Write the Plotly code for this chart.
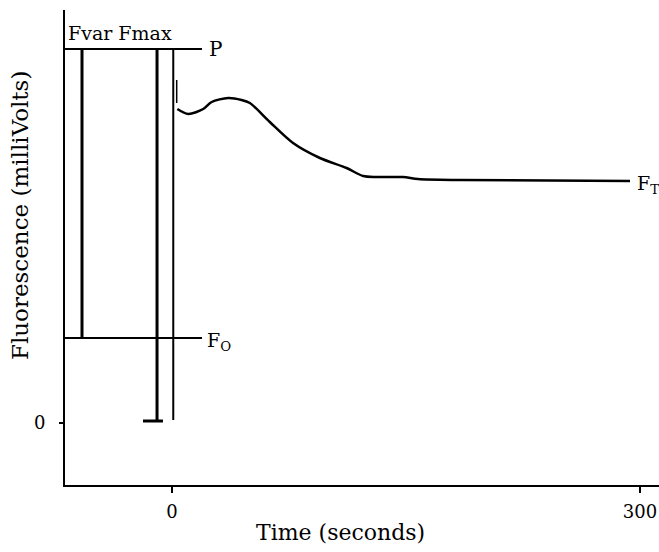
import plotly.graph_objects as go

# Fluorescence trace after the actinic light is switched on (t = 0)
time_s = [3.4, 10.4, 20.0, 25.4, 36.0, 44.6, 49.9, 62.7, 77.6, 94.8, 111.9, 122.5, 131.0, 148.1, 157.7, 185.0, 293.6]
fluor_mv = [314, 309, 314, 321, 325, 323, 320, 301, 280, 265, 255, 247, 246, 246, 244, 243, 242]

# Reference levels
p_level = 374     # peak fluorescence P
f0_level = 85     # minimal fluorescence F0
zero_level = 0

# Positions of the saturating-pulse markers
fvar_t = -57.7
fmax_t = -9.6
light_on_t = 0.8
cap_half = [-18.6, -5.8]
level_end_t = 19.2
spike_t = 3.0
spike_range = [320, 343]

x_ticks = [0, 300]
y_ticks = [0]

font_family = "DejaVu Serif"
ink = "black"

fig = go.Figure()

def seg(xs, ys, w):
    fig.add_trace(go.Scatter(x=xs, y=ys, mode="lines",
                             line=dict(color=ink, width=w),
                             hoverinfo="skip", showlegend=False))

# P and F0 levels
seg([-70, level_end_t], [p_level, p_level], 2)
seg([-70, level_end_t], [f0_level, f0_level], 2)
# Fvar bar
seg([fvar_t, fvar_t], [p_level, f0_level], 3)
# Fmax bar with foot
seg([fmax_t, fmax_t], [p_level, zero_level + 2], 3)
seg(cap_half, [zero_level + 2, zero_level + 2], 3)
# light switched on
seg([light_on_t, light_on_t], [p_level, zero_level + 3], 2)
seg([spike_t, spike_t], spike_range, 1.5)
# fluorescence trace
fig.add_trace(go.Scatter(x=time_s, y=fluor_mv, mode="lines",
                         line=dict(color=ink, width=2.5, shape="spline", smoothing=0.8),
                         hoverinfo="skip", showlegend=False))

ann_font = dict(family=font_family, size=19, color=ink)
fig.add_annotation(x=-68, y=p_level, text="Fvar Fmax", showarrow=False,
                   xanchor="left", yanchor="bottom", yshift=3, font=ann_font)
fig.add_annotation(x=level_end_t, y=p_level, text="P", showarrow=False,
                   xanchor="left", yanchor="middle", xshift=5, font=dict(family=font_family, size=20, color=ink))
fig.add_annotation(x=level_end_t, y=f0_level, text="F<sub>O</sub>", showarrow=False,
                   xanchor="left", yanchor="middle", xshift=3, yshift=-3, font=ann_font)
fig.add_annotation(x=time_s[-1], y=fluor_mv[-1], text="F<sub>T</sub>", showarrow=False,
                   xanchor="left", yanchor="middle", xshift=5, yshift=-3, font=ann_font)

# Axis titles
fig.add_annotation(xref="paper", yref="paper", x=0.463, y=-0.101,
                   text="Time (seconds)", showarrow=False,
                   xanchor="center", yanchor="middle",
                   font=dict(family=font_family, size=22, color=ink))
fig.add_annotation(xref="paper", yref="paper", x=-0.076, y=0.568,
                   text="Fluorescence (milliVolts)", showarrow=False, textangle=-90,
                   xanchor="center", yanchor="middle",
                   font=dict(family=font_family, size=23, color=ink))

fig.update_layout(
    width=659, height=552,
    margin=dict(l=65, r=0, t=10, b=67),
    paper_bgcolor="white", plot_bgcolor="white",
    font=dict(family=font_family, color=ink, size=16),
    xaxis=dict(range=[-68.6, 312.2], showgrid=False, zeroline=False,
               showline=True, linecolor=ink, linewidth=2,
               tickvals=x_ticks, ticktext=[str(v) for v in x_ticks],
               ticks="outside", ticklen=6, tickwidth=1.5, tickcolor=ink,
               ticklabelstandoff=3,
               tickfont=dict(family=font_family, size=18)),
    yaxis=dict(range=[-62, 413], showgrid=False, zeroline=False,
               showline=True, linecolor=ink, linewidth=2,
               tickvals=y_ticks, ticktext=[str(v) for v in y_ticks],
               ticks="outside", ticklen=4, tickwidth=1.5, tickcolor=ink,
               ticklabelstandoff=10,
               tickfont=dict(family=font_family, size=18)),
)

fig.write_html("out.html")
